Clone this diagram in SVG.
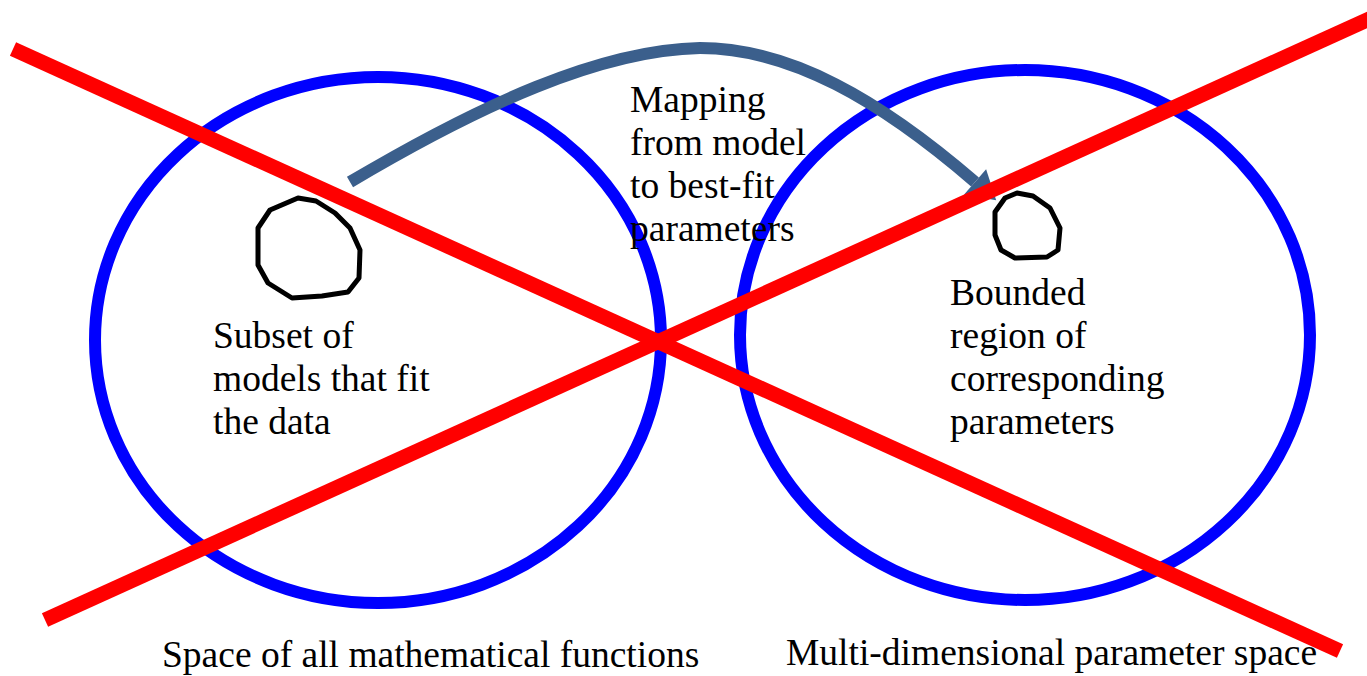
<svg xmlns="http://www.w3.org/2000/svg" width="1367" height="676" viewBox="0 0 1367 676">
<style>
.space{fill:none;stroke:#0000ff;stroke-width:12}
.blob{fill:none;stroke:#000;stroke-width:5;stroke-linejoin:round}
.conn{fill:none;stroke:#3b5f8c;stroke-width:12}
.cross{stroke:#ff0000;stroke-width:15;stroke-linecap:butt}
text{font-family:"Liberation Serif","Times New Roman",serif;font-size:37.5px;fill:#000}
</style>
<defs>
<marker id="ah" markerUnits="userSpaceOnUse" markerWidth="40" markerHeight="40" refX="0" refY="0" viewBox="-2 -20 34 40" orient="auto">
<path d="M0,-17 L28,0 L0,17 Z" fill="#3b5f8c"/>
</marker>
</defs>
<rect width="1367" height="676" fill="#fff"/>
<g id="function-space">
<ellipse class="space" cx="378" cy="340" rx="283" ry="263"/>
<text x="162" y="667">Space of all mathematical functions</text>
</g>
<g id="parameter-space">
<ellipse class="space" cx="1025" cy="335" rx="285" ry="265"/>
<text x="786" y="665">Multi-dimensional parameter space</text>
</g>
<g id="model-subset">
<path class="blob" d="M298,198 L316,201 L335,213 L350,228 L360,250 L359,278 L348,292 L322,296 L292,298 L268,283 L258,265 L258,228 L270,210 Z"/>
<text x="213" y="348">Subset of</text>
<text x="213" y="391">models that fit</text>
<text x="213" y="434">the data</text>
</g>
<g id="parameter-region">
<path class="blob" d="M1017,193 L1033,196 L1050,208 L1060,228 L1058,250 L1047,257 L1015,258 L1001,250 L995,235 L995,212 L1005,198 Z"/>
<text x="950" y="305">Bounded</text>
<text x="950" y="348">region of</text>
<text x="950" y="391">corresponding</text>
<text x="950" y="434">parameters</text>
</g>
<g id="connectors">
<path class="conn" d="M350,182 C480,105 600,50 700,48 C790,48 880,100 975,182" marker-end="url(#ah)"/>
</g>
<g id="mapping-label">
<text x="630" y="112">Mapping</text>
<text x="630" y="155">from model</text>
<text x="630" y="198">to best-fit</text>
<text x="630" y="241">parameters</text>
</g>
<g id="cross-out">
<line class="cross" x1="13" y1="49" x2="1340" y2="651"/>
<line class="cross" x1="45" y1="620" x2="1380" y2="14"/>
</g>
</svg>
